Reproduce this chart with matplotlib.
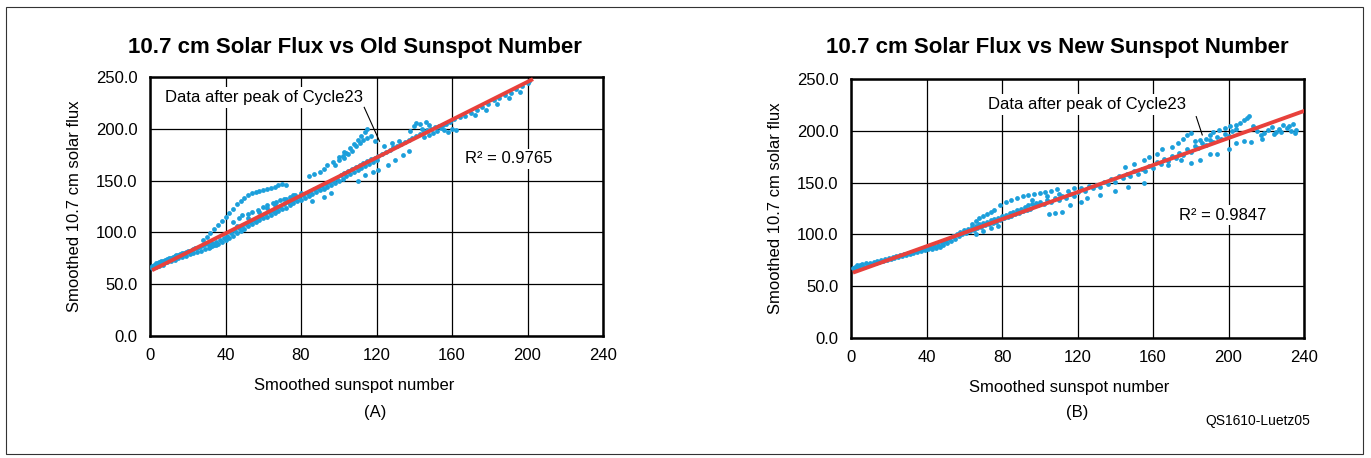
import numpy as np
import matplotlib
matplotlib.use("Agg")
import matplotlib.pyplot as plt
from matplotlib.patches import Rectangle

plt.rcParams["font.family"] = ["Liberation Sans", "DejaVu Sans"]

# ---- data ----
# (A) old sunspot number vs smoothed 10.7 cm flux
old_x = [1, 2, 3, 4, 5, 6, 7, 8, 9, 10, 11, 12, 13, 14, 15, 16, 17, 18, 19, 20,
         21, 22, 23, 24, 25, 26, 27, 28, 29, 30,
         1, 3, 5, 7, 9, 11, 13, 15, 17, 19, 21, 23, 25, 27, 29, 31, 33, 35,
         31, 32, 33, 34, 35, 36, 37, 38, 39, 40, 41, 42, 43, 44, 45, 46, 47, 48, 49, 50,
         51, 52, 53, 54, 55, 56, 57, 58, 59, 60, 61, 62, 63, 64, 65, 66, 67, 68, 69, 70,
         71, 72, 73, 74, 75, 76, 77, 78, 79, 80,
         46, 52, 58, 62, 66, 72, 76, 80,
         28, 30, 32, 34, 36, 38, 40, 42, 44, 46, 48, 50, 52, 54, 56, 58, 60, 62, 64, 66,
         68, 70, 72,
         44, 47, 49, 52, 54, 57, 60, 62, 65, 67, 69, 71, 74, 77,
         81, 82, 83, 84, 85, 86, 87, 88, 89, 90, 91, 92, 93, 94, 95, 96, 97, 98, 99, 100,
         84, 87, 90, 92, 94, 97, 100, 103, 86, 92, 96,
         101, 102, 103, 104, 105, 106, 107, 108, 109, 110, 111, 112, 113, 114, 115, 116,
         117, 118, 119, 120,
         98, 100, 102, 104, 106, 108, 110, 112, 114, 115,
         103, 105, 107, 109, 111, 113, 115, 117, 119,
         110, 114, 118, 121, 126, 130, 134, 137,
         121, 123, 125, 127, 129, 131, 133, 135, 137, 139, 141, 143, 145, 147, 149, 151,
         153, 155, 157, 159, 161,
         138, 140, 141, 143, 144, 146, 148, 150, 152, 154, 156, 158, 160, 162, 145, 148,
         124, 128, 132,
         164, 167, 170, 173, 176, 179, 182, 185, 188, 191, 194, 197, 200, 201,
         172, 178, 184, 190, 196]
old_y = [68, 69, 70, 70, 71, 72, 72, 73, 74, 75, 75, 76, 77, 78, 78, 79, 80, 80, 81, 82,
         82, 83, 84, 85, 85, 86, 87, 88, 89, 90,
         66, 67, 68, 69, 71, 72, 73, 75, 76, 77, 79, 80, 81, 82, 84, 85, 87, 88,
         88, 86, 90, 88, 91, 89, 93, 91, 95, 93, 97, 95, 99, 97, 101, 99, 104, 101, 106, 103,
         108, 106, 110, 108, 112, 110, 114, 112, 116, 114, 118, 115, 120, 117, 121, 119,
         123, 121, 125, 123,
         127, 124, 129, 126, 130, 128, 132, 130, 134, 131,
         106, 114, 120, 124, 126, 132, 136, 138,
         93, 96, 99, 103, 107, 111, 115, 119, 123, 127, 130, 133, 136, 138, 139, 140,
         141, 142, 143, 144, 146, 147, 146,
         110, 114, 117, 118, 120, 122, 125, 126, 128, 129, 131, 132, 134, 136,
         136, 133, 138, 135, 140, 137, 142, 139, 143, 141, 145, 142, 147, 144, 149, 146,
         150, 148, 152, 150,
         154, 156, 158, 161, 165, 168, 173, 178, 130, 134, 138,
         155, 152, 157, 154, 159, 156, 161, 158, 163, 160, 165, 162, 167, 164, 169, 166,
         171, 168, 172, 170,
         165, 170, 174, 177, 181, 185, 189, 193, 197, 200,
         172, 176, 179, 183, 186, 189, 191, 193, 188,
         150, 155, 158, 160, 165, 170, 175, 179,
         174, 176, 178, 180, 182, 183, 185, 187, 189, 191, 193, 195, 197, 199, 200, 202,
         203, 204, 205, 207, 209,
         198, 203, 206, 205, 200, 207, 204, 196, 198, 201, 199, 197, 200, 199, 192, 194,
         183, 186, 188,
         211, 212, 215, 218, 221, 224, 228, 230, 233, 235, 238, 241, 244, 246,
         213, 218, 224, 230, 236]

# (B) new sunspot number vs smoothed 10.7 cm flux
new_x = [1, 2, 3, 5, 6, 8, 10, 12, 14, 16, 18, 20, 22, 24, 26, 28, 30, 32, 34, 36, 38, 40,
         2, 4, 7, 9, 11, 13, 15, 17, 19, 21, 23, 25, 27, 29, 31, 33, 35, 37, 39, 41,
         42, 43, 44, 45, 46, 47, 48, 49, 50, 51, 52, 53, 54, 55, 56, 57, 58, 59, 60, 61,
         62, 63, 64, 65, 66, 67, 68, 69, 70, 71, 72, 73, 74, 75, 76, 77, 78, 79, 80,
         66, 70, 74, 78,
         64, 66, 68, 70, 72, 74, 76, 79, 82, 85, 88, 91, 94, 97, 100, 103, 106, 109,
         81, 82, 83, 84, 85, 86, 87, 88, 89, 90, 91, 92, 93, 94, 95, 96, 97, 98, 99, 100,
         102, 104, 106, 108, 110, 112, 114, 116, 118, 120,
         96, 104, 110, 115, 118,
         105, 108, 112, 116, 122, 125,
         122, 124, 126, 128, 130, 132, 134, 136, 138, 140, 142, 144, 146, 148, 150, 152,
         154, 156, 158, 160,
         145, 150, 155, 158, 162, 165,
         132, 140, 147, 155,
         162, 164, 166, 168, 170, 172, 174, 176, 178, 180, 182, 184, 186, 188, 190, 192,
         194, 196, 198, 200,
         170, 173, 176, 178, 180, 182, 185, 188, 190, 192, 195, 198, 201, 204,
         168, 175, 180, 185, 190, 194, 200, 204,
         202, 204, 206, 208, 210, 211, 213, 215, 217, 219, 221, 223, 225, 227, 229, 231,
         233, 235, 208, 212, 218, 224, 228, 232, 234, 236]
new_y = [68, 69, 70, 70, 71, 72, 72, 73, 74, 75, 76, 77, 78, 79, 80, 81, 82, 83, 84, 85, 86, 87,
         67, 68, 69, 70, 71, 72, 73, 74, 75, 76, 77, 78, 79, 80, 81, 82, 83, 84, 85, 86,
         88, 86, 89, 87, 90, 88, 92, 90, 94, 92, 96, 94, 98, 96, 100, 98, 102, 100, 104, 101,
         105, 103, 107, 104, 108, 106, 110, 107, 111, 109, 112, 110, 114, 111, 115, 112,
         116, 114, 118,
         100, 103, 106, 108,
         110, 113, 116, 118, 120, 122, 124, 128, 131, 133, 135, 137, 138, 139, 140, 141,
         142, 144,
         116, 119, 117, 121, 118, 122, 120, 124, 121, 125, 123, 126, 124, 128, 125, 129,
         127, 130, 128, 131,
         129, 133, 131, 135, 133, 137, 135, 139, 137, 141,
         133, 137, 139, 142, 145,
         120, 121, 122, 128, 131, 135,
         145, 142, 147, 145, 148, 146, 151, 149, 153, 151, 156, 154, 158, 156, 161, 158,
         163, 161, 166, 164,
         165, 168, 172, 175, 178, 182,
         138, 142, 146, 150,
         170, 168, 173, 171, 176, 174, 179, 177, 182, 180, 185, 183, 188, 186, 191, 189,
         194, 192, 197, 195,
         184, 188, 192, 196, 198, 190, 191, 192, 196, 199, 201, 203, 205, 206,
         167, 172, 169, 172, 178, 178, 182, 188,
         200, 202, 208, 210, 212, 214, 205, 200, 196, 198, 201, 204, 199, 202, 206, 203,
         200, 198, 190, 189, 192, 197, 199, 205, 207, 201]

# linear trend lines as printed (slope, intercept, x range)
old_fit = (0.914, 62.5, 2, 202)
new_fit = (0.653, 62.4, 2, 240)
old_r2 = "R² = 0.9765"
new_r2 = "R² = 0.9847"

x_ticks = [0, 40, 80, 120, 160, 200, 240]
y_ticks = [0, 50, 100, 150, 200, 250]

dot_color = "#1C9FDB"
line_color = "#E8413C"

W, H = 1371, 458
fig = plt.figure(figsize=(W / 100, H / 100), dpi=100)

# outer frame
fig.patches.append(Rectangle((6 / W, 4 / H), 1357 / W, 447 / H, transform=fig.transFigure,
                             fill=False, edgecolor="#333333", linewidth=0.8))


def draw_panel(rect, xs, ys, fit, r2, r2_pos, note_pos, arrow, title, title_x,
               letter, letter_x, xlabel_x):
    ax = fig.add_axes(rect)
    ax.set_axisbelow(True)
    ax.grid(color="black", linewidth=0.9)
    ax.scatter(xs, ys, s=12, color=dot_color, linewidths=0, zorder=3)
    slope, icpt, x0, x1 = fit
    lx = np.array([x0, x1])
    ax.plot(lx, slope * lx + icpt, color=line_color, linewidth=2.8, zorder=4)
    ax.set_xlim(0, 240)
    ax.set_ylim(0, 250)
    ax.set_xticks(x_ticks)
    ax.set_yticks(y_ticks)
    ax.set_yticklabels([f"{v:.1f}" for v in y_ticks])
    ax.tick_params(length=0, labelsize=12, pad=9)
    for sp in ax.spines.values():
        sp.set_linewidth(1.8)
    ax.set_xlabel("Smoothed sunspot number", fontsize=12)
    ax.xaxis.set_label_coords(xlabel_x, -0.163)
    ax.set_ylabel("Smoothed 10.7 cm solar flux", fontsize=12, labelpad=10)
    ax.text(r2_pos[0], r2_pos[1], r2, fontsize=12, va="center", ha="left", zorder=5,
            bbox=dict(facecolor="white", edgecolor="none", pad=2))
    ax.text(note_pos[0], note_pos[1], "Data after peak of Cycle23", fontsize=12,
            va="center", ha="left", zorder=5,
            bbox=dict(facecolor="white", edgecolor="none", pad=2))
    ax.plot(arrow[0], arrow[1], color="black", linewidth=0.8, zorder=5)
    fig.text(title_x / W, 1 - 47 / H, title, fontsize=16, fontweight="bold",
             ha="center", va="center")
    fig.text(letter_x / W, 1 - 413 / H, letter, fontsize=12, ha="center", va="center")
    return ax


draw_panel([150 / W, 1 - 336 / H, 453 / W, 259 / H], old_x, old_y, old_fit, old_r2,
           (167, 171), (8, 230.5), ([113.5, 121.6], [220.7, 188.0]),
           "10.7 cm Solar Flux vs Old Sunspot Number", 355, "(A)", 375, 0.45)
draw_panel([851 / W, 1 - 338 / H, 453 / W, 259 / H], new_x, new_y, new_fit, new_r2,
           (174, 118.7), (72.6, 225.7), ([182.9, 186.1], [213.7, 196.0]),
           "10.7 cm Solar Flux vs New Sunspot Number", 1057, "(B)", 1077, 0.481)

fig.text(1258 / W, 1 - 421 / H, "QS1610-Luetz05", fontsize=10, ha="center", va="center")

fig.savefig("out.png", dpi=100)
